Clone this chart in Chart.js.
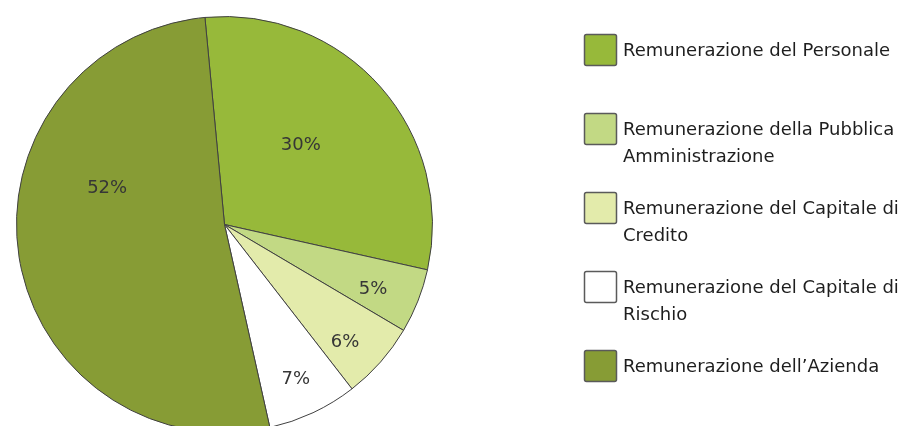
<!DOCTYPE html>
<html>
<head>
<meta charset="utf-8">
<script src="https://cdn.jsdelivr.net/npm/chart.js@4.4.1/dist/chart.umd.min.js"></script>
<style>
  html, body { margin: 0; padding: 0; background: #ffffff; overflow: hidden; width: 909px; height: 426px; }
  #wrap { position: relative; width: 909px; height: 452px; }
</style>
</head>
<body>
<div id="wrap"><canvas id="c" width="909" height="452"></canvas></div>
<script>
// ---- data ----
const categories = [
  "Remunerazione del Personale",
  "Remunerazione della Pubblica Amministrazione",
  "Remunerazione del Capitale di Credito",
  "Remunerazione del Capitale di Rischio",
  "Remunerazione dell\u2019Azienda"
];
const shares = [30, 5, 6, 7, 52];
const sliceColors = ["#97B93A", "#C2D984", "#E3EBAB", "#FFFFFF", "#879C35"];

// label placement (fraction of radius, angle shift in degrees)
const labelRadius = [0.53, 0.78, 0.81, 0.82, 0.59];
const labelShift = [-4.8, 2.1, 2.9, 0.5, 26];

const sliceLabels = {
  id: 'sliceLabels',
  afterDatasetsDraw(chart) {
    const ctx = chart.ctx;
    const meta = chart.getDatasetMeta(0);
    ctx.save();
    ctx.font = '18px "DejaVu Sans"';
    ctx.fillStyle = '#363636';
    ctx.textAlign = 'center';
    ctx.textBaseline = 'middle';
    meta.data.forEach((arc, i) => {
      const p = arc.getProps(['x', 'y', 'startAngle', 'endAngle', 'outerRadius'], true);
      const a = (p.startAngle + p.endAngle) / 2 + labelShift[i] * Math.PI / 180;
      const r = p.outerRadius * labelRadius[i];
      ctx.fillText(chart.data.datasets[0].data[i] + '%', p.x + Math.cos(a) * r, p.y + Math.sin(a) * r);
    });
    ctx.restore();
  }
};

const sideLegend = {
  id: 'sideLegend',
  afterDraw(chart) {
    const ctx = chart.ctx;
    const boxX = 584, boxW = 32, boxH = 31, top0 = 34, step = 79;
    const textX = 623, lineH = 27, maxW = chart.width - textX;
    ctx.save();
    ctx.font = '18px "DejaVu Sans"';
    ctx.textBaseline = 'middle';
    ctx.textAlign = 'left';
    chart.data.labels.forEach((lab, i) => {
      const top = top0 + i * step;
      ctx.beginPath();
      if (ctx.roundRect) ctx.roundRect(boxX + 0.5, top + 0.5, boxW, boxH, 2);
      else ctx.rect(boxX + 0.5, top + 0.5, boxW, boxH);
      ctx.fillStyle = chart.data.datasets[0].backgroundColor[i];
      ctx.fill();
      ctx.lineWidth = 1.5;
      ctx.strokeStyle = '#5a5a5a';
      ctx.stroke();
      // wrap text
      const words = lab.split(' ');
      const lines = [];
      let cur = '';
      words.forEach(w => {
        const t = cur ? cur + ' ' + w : w;
        if (ctx.measureText(t).width > maxW && cur) { lines.push(cur); cur = w; }
        else cur = t;
      });
      if (cur) lines.push(cur);
      ctx.fillStyle = '#1e1e1e';
      lines.forEach((ln, k) => ctx.fillText(ln, textX, top + 17 + k * lineH));
    });
    ctx.restore();
  }
};

new Chart(document.getElementById('c'), {
  type: 'pie',
  data: {
    labels: categories,
    datasets: [{
      data: shares,
      backgroundColor: sliceColors,
      borderColor: '#404040',
      borderWidth: 1
    }]
  },
  options: {
    responsive: false,
    animation: false,
    rotation: -5.4,
    layout: { padding: { left: 16, top: 16, right: 476, bottom: 19 } },
    plugins: {
      legend: { display: false },
      tooltip: { enabled: false }
    }
  },
  plugins: [sliceLabels, sideLegend]
});
</script>
</body>
</html>
